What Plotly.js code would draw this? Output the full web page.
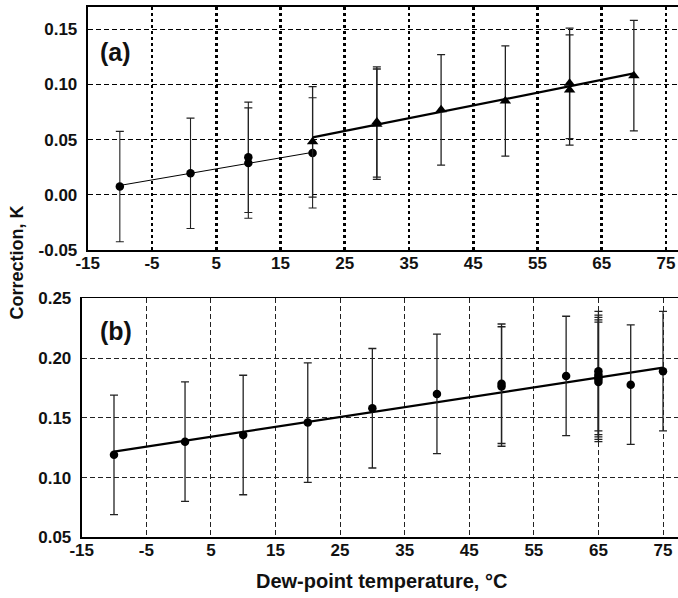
<!DOCTYPE html>
<html>
<head>
<meta charset="utf-8">
<script src="https://cdn.plot.ly/plotly-3.0.1.min.js"></script>
<style>html,body{margin:0;padding:0;background:#fff;}#chart{width:678px;height:598px;}</style>
</head>
<body>
<div id="chart"></div>
<script>
// Panel (a): circles (low range) and triangles (high range)
const aCircX = [-10, 1, 10, 10, 20];
const aCircY = [0.0075, 0.0195, 0.034, 0.0288, 0.038];
const aCircErr = [0.05, 0.05, 0.05, 0.05, 0.05];
const aTriX = [20, 30, 30, 40, 50, 60, 60, 70];
const aTriY = [0.048, 0.066, 0.064, 0.077, 0.085, 0.101, 0.095, 0.108];
const aTriErr = [0.05, 0.05, 0.05, 0.05, 0.05, 0.05, 0.05, 0.05];
const aFit1X = [-10, 20];
const aFit1Y = [0.0085, 0.0385];
const aFit2X = [20, 70];
const aFit2Y = [0.052, 0.110];
// Panel (b)
const bX = [-10, 1, 10, 20, 30, 40, 50, 50, 60, 65, 65, 65, 65, 65, 70, 75];
const bY = [0.119, 0.130, 0.1356, 0.146, 0.158, 0.170, 0.1785, 0.1762, 0.185, 0.189, 0.186, 0.184, 0.182, 0.180, 0.1777, 0.189];
const bErr = [0.05, 0.05, 0.05, 0.05, 0.05, 0.05, 0.05, 0.05, 0.05, 0.05, 0.05, 0.05, 0.05, 0.05, 0.05, 0.05];
const bFitX = [-10, 75];
const bFitY = [0.1217, 0.192];
// Ticks
const xTicks = [-15, -5, 5, 15, 25, 35, 45, 55, 65, 75];
const xTickText = ['-15', '-5', '5', '15', '25', '35', '45', '55', '65', '75'];
const aYTicks = [-0.05, 0.00, 0.05, 0.10, 0.15];
const aYTickText = ['-0.05', '0.00', '0.05', '0.10', '0.15'];
const bYTicks = [0.05, 0.10, 0.15, 0.20, 0.25];
const bYTickText = ['0.05', '0.10', '0.15', '0.20', '0.25'];

const W = 678, H = 598;
const tickFont = {family: 'Liberation Sans, Arial, sans-serif', size: 17, weight: 'bold', color: '#111'};

const traces = [
  {x: aFit1X, y: aFit1Y, xaxis: 'x', yaxis: 'y', mode: 'lines', line: {color: '#000', width: 1}, hoverinfo: 'skip'},
  {x: aFit2X, y: aFit2Y, xaxis: 'x', yaxis: 'y', mode: 'lines', line: {color: '#000', width: 2.2}, hoverinfo: 'skip'},
  {x: aCircX, y: aCircY, xaxis: 'x', yaxis: 'y', mode: 'markers',
   marker: {symbol: 'circle', size: 8.5, color: '#000'},
   error_y: {type: 'data', array: aCircErr, visible: true, width: 4, thickness: 1.1, color: '#222'}},
  {x: aTriX, y: aTriY, xaxis: 'x', yaxis: 'y', mode: 'markers',
   marker: {symbol: 'triangle-up', size: 10, color: '#000'},
   error_y: {type: 'data', array: aTriErr, visible: true, width: 4, thickness: 1.3, color: '#222'}},
  {x: bFitX, y: bFitY, xaxis: 'x2', yaxis: 'y2', mode: 'lines', line: {color: '#000', width: 2.2}, hoverinfo: 'skip'},
  {x: bX, y: bY, xaxis: 'x2', yaxis: 'y2', mode: 'markers',
   marker: {symbol: 'circle', size: 8.5, color: '#000'},
   error_y: {type: 'data', array: bErr, visible: true, width: 4, thickness: 1.3, color: '#222'}}
];

const layout = {
  width: W, height: H,
  margin: {l: 0, r: 0, t: 0, b: 0},
  paper_bgcolor: '#fff', plot_bgcolor: '#fff',
  showlegend: false,
  font: {family: 'Liberation Sans, Arial, sans-serif', color: '#111'},
  xaxis: {
    domain: [87.7 / W, 1], anchor: 'y', range: [-15, 76.87],
    tickvals: xTicks, ticktext: xTickText, ticks: '', ticklabelstandoff: -3, tickfont: tickFont,
    showgrid: true, gridcolor: '#000', gridwidth: 2.6, griddash: '3px,3px',
    showline: true, linecolor: '#000', linewidth: 1.6, mirror: true, zeroline: false
  },
  yaxis: {
    domain: [1 - 250 / H, 1 - 7 / H], anchor: 'x', range: [-0.05, 0.1702],
    tickvals: aYTicks, ticktext: aYTickText, ticks: '', ticklabelstandoff: 5, tickfont: tickFont,
    showgrid: true, gridcolor: '#000', gridwidth: 1, griddash: '5px,3px',
    showline: true, linecolor: '#000', linewidth: 2, zeroline: false
  },
  xaxis2: {
    domain: [81.7 / W, 1], anchor: 'y2', range: [-15, 77.32],
    tickvals: xTicks, ticktext: xTickText, ticks: '', ticklabelstandoff: -3, tickfont: tickFont,
    showgrid: true, gridcolor: '#222', gridwidth: 1, griddash: '5px,3px',
    showline: true, linecolor: '#000', linewidth: 1.6, mirror: true, zeroline: false
  },
  yaxis2: {
    domain: [1 - 537.3 / H, 1 - 298.3 / H], anchor: 'x2', range: [0.05, 0.25],
    tickvals: bYTicks, ticktext: bYTickText, ticks: '', ticklabelstandoff: 5, tickfont: tickFont,
    showgrid: true, gridcolor: '#222', gridwidth: 1, griddash: '5px,3px',
    showline: true, linecolor: '#000', linewidth: 2, zeroline: false
  },
  annotations: [
    {text: '(a)', xref: 'paper', yref: 'paper', x: 115.7 / W, y: 1 - 52 / H, showarrow: false,
     xanchor: 'center', yanchor: 'middle', font: {family: 'Liberation Sans, Arial, sans-serif', size: 25, weight: 'bold', color: '#111'}},
    {text: '(b)', xref: 'paper', yref: 'paper', x: 116 / W, y: 1 - 331 / H, showarrow: false,
     xanchor: 'center', yanchor: 'middle', font: {family: 'Liberation Sans, Arial, sans-serif', size: 25, weight: 'bold', color: '#111'}},
    {text: 'Correction, K', xref: 'paper', yref: 'paper', x: 16 / W, y: 1 - 262.5 / H, showarrow: false,
     textangle: -90, xanchor: 'center', yanchor: 'middle', font: {family: 'Liberation Sans, Arial, sans-serif', size: 18, weight: 'bold', color: '#111'}},
    {text: 'Dew-point temperature, °C', xref: 'paper', yref: 'paper', x: 381.7 / W, y: 1 - 581 / H, showarrow: false,
     xanchor: 'center', yanchor: 'middle', font: {family: 'Liberation Sans, Arial, sans-serif', size: 20, weight: 'bold', color: '#111'}}
  ]
};

Plotly.newPlot('chart', traces, layout, {staticPlot: true, displayModeBar: false});
</script>
</body>
</html>
